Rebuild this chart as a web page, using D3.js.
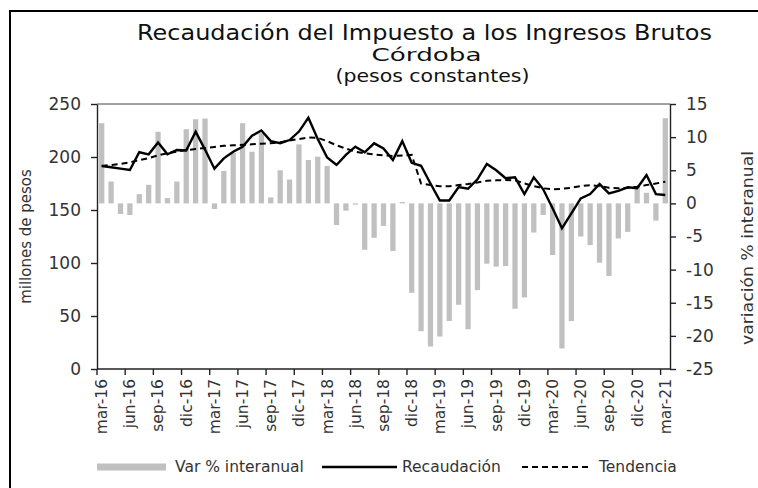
<!DOCTYPE html>
<html>
<head>
<meta charset="utf-8">
<script src="https://cdn.jsdelivr.net/npm/d3@7"></script>
<style>
  body { margin: 0; background: #fff; }
  svg { display: block; font-family: "DejaVu Sans", sans-serif; }
</style>
</head>
<body>
<svg id="chart" width="758" height="488"></svg>
<script>
// Monthly categories, mar-16 .. mar-21
const monthNames = ["ene", "feb", "mar", "abr", "may", "jun", "jul", "ago", "sep", "oct", "nov", "dic"];
const months = [];
for (let k = 0; k < 61; k++) {
  const m = (2 + k) % 12;
  const y = 16 + Math.floor((2 + k) / 12);
  months.push(monthNames[m] + "-" + y);
}

// Year-on-year change (%), right axis
const varInteranual = [
  12.1, 3.3, -1.6, -1.75, 1.4, 2.8, 10.8, 0.8, 3.3, 11.2, 12.7, 12.8,
  -0.85, 4.9, 7.6, 12.1, 7.8, 10.6, 0.9, 5.0, 3.6, 8.9, 6.55, 7.05,
  5.65, -3.26, -1.1, -0.2, -7.0, -5.2, -3.4, -7.2, 0.2, -13.5, -19.3, -21.6,
  -20.1, -17.75, -15.3, -19.0, -13.1, -9.1, -9.55, -9.45, -15.9, -14.2, -4.4, -1.75,
  -7.8, -21.9, -17.75, -5.0, -6.3, -8.95, -10.95, -5.3, -4.3, 2.5, 1.6, -2.6,
  12.85
];

// Revenue, millions of constant pesos (left axis)
const recaudacion = [
  191.5, 190.3, 189, 187.7, 204.5, 202.5, 213.7, 202.5, 206.6, 206.2, 223.9, 207,
  189, 198.7, 205, 209.7, 220, 225, 215, 213, 216, 224, 237, 217,
  199.5, 192.5, 202, 209.7, 204.4, 212.9, 208, 197.2, 215, 194.5, 191.7, 175,
  159, 159, 171.7, 170, 179, 193.4, 187.5, 180, 180.8, 165, 180.8, 169.5,
  151.6, 132.7, 146.9, 161, 165, 174.5, 165.7, 168, 171.4, 170.5, 183, 165,
  164.2
];

// Trend component of the revenue series
const tendencia = [
  191.5, 192.5, 193.5, 195, 197, 199, 201.5, 203.5, 205, 206.5, 207.5, 208.5,
  209.5, 210.5, 211, 211.5, 212, 212.5, 213, 214, 215.5, 217, 218.5, 218,
  215, 211, 208, 205, 203.5, 202.5, 201.5, 201, 201.5, 202, 175, 173.5,
  172.5, 172.5, 173.5, 174.5, 176, 177.5, 178, 178.3, 178, 175, 172.5, 170.5,
  169.5, 170, 171, 172.5, 173.5, 172.5, 171, 170.5, 171, 172, 173.5, 175,
  176.7
];

const leftTicks = [0, 50, 100, 150, 200, 250];
const rightTicks = [-25, -20, -15, -10, -5, 0, 5, 10, 15];
const tickMonths = months.filter((d, i) => i % 3 === 0);

const svg = d3.select("#chart");
const plot = { left: 97, right: 670, top: 104, bottom: 369 };
const textColor = "#333";

// Outer frame
svg.append("path")
  .attr("d", "M10,488 V11 H758")
  .attr("fill", "none").attr("stroke", "#000").attr("stroke-width", 2);

// Titles (wide geometric face approximated by stretching the glyphs)
const titles = [
  { t: "Recaudación del Impuesto a los Ingresos Brutos", x: 424.5, y: 40, s: 21, w: 575 },
  { t: "Córdoba", x: 426.5, y: 61, s: 18.5, w: 110 },
  { t: "(pesos constantes)", x: 432.5, y: 82, s: 18.5, w: 194 }
];
svg.selectAll("text.title").data(titles).join("text")
  .attr("class", "title")
  .attr("x", d => d.x).attr("y", d => d.y)
  .attr("text-anchor", "middle")
  .attr("font-size", d => d.s)
  .attr("textLength", d => d.w)
  .attr("lengthAdjust", "spacingAndGlyphs")
  .attr("fill", "#111")
  .text(d => d.t);

// Scales
const x = d3.scaleBand().domain(months)
  .range([plot.left, plot.right])
  .paddingInner(0.44).paddingOuter(0.22);
const step = x.step();
const yLeft = d3.scaleLinear().domain([0, 250]).range([plot.bottom, plot.top]);
const yRight = d3.scaleLinear().domain([-25, 15]).range([plot.bottom, plot.top]);

// Bars: year-on-year change
svg.append("g").selectAll("rect").data(varInteranual).join("rect")
  .attr("x", (d, i) => x(months[i]))
  .attr("width", x.bandwidth())
  .attr("y", d => yRight(Math.max(0, d)))
  .attr("height", d => Math.abs(yRight(d) - yRight(0)))
  .attr("fill", "#c0c0c0");

// Top border of the plot area
svg.append("line")
  .attr("x1", plot.left).attr("x2", plot.right)
  .attr("y1", plot.top).attr("y2", plot.top)
  .attr("stroke", "#444").attr("stroke-width", 1);

// Lines
const cx = i => x(months[i]) + x.bandwidth() / 2;
const lineGen = d3.line().x((d, i) => cx(i)).y(d => yLeft(d));
svg.append("path").datum(tendencia)
  .attr("d", lineGen)
  .attr("fill", "none").attr("stroke", "#000")
  .attr("stroke-width", 2).attr("stroke-dasharray", "6,4");
svg.append("path").datum(recaudacion)
  .attr("d", lineGen)
  .attr("fill", "none").attr("stroke", "#000")
  .attr("stroke-width", 2.4).attr("stroke-linejoin", "miter");

// Axes
const styleAxis = g => {
  g.selectAll(".domain").attr("stroke", "#222").attr("stroke-width", 1.4);
  g.selectAll(".tick line").attr("stroke", "#222").attr("stroke-width", 1.4);
  g.selectAll(".tick text").attr("fill", textColor).attr("font-family", "DejaVu Sans, sans-serif");
};

const gLeft = svg.append("g")
  .attr("transform", `translate(${plot.left},0)`)
  .call(d3.axisLeft(yLeft).tickValues(leftTicks).tickSize(6).tickPadding(10).tickSizeOuter(0))
  .call(styleAxis);
gLeft.selectAll(".tick text").attr("font-size", 17);

const gRight = svg.append("g")
  .attr("transform", `translate(${plot.right},0)`)
  .call(d3.axisRight(yRight).tickValues(rightTicks).tickSize(6).tickPadding(10).tickSizeOuter(0)
    .tickFormat(d => String(d)))
  .call(styleAxis);
gRight.selectAll(".tick text").attr("font-size", 17);

const gBottom = svg.append("g")
  .attr("transform", `translate(0,${plot.bottom})`)
  .call(d3.axisBottom(x).tickValues(tickMonths).tickSize(6).tickSizeOuter(0))
  .call(styleAxis);
gBottom.select(".domain").attr("d", `M${plot.left},0H${plot.right}`);
// tick marks sit on category boundaries, labels stay centred on their month
gBottom.selectAll(".tick line").attr("transform", `translate(${-step / 2},0)`);
gBottom.selectAll(".tick text")
  .attr("font-size", 15.5)
  .attr("text-anchor", "end")
  .attr("transform", "rotate(-90)")
  .attr("x", -10).attr("y", 0).attr("dy", "0.35em");

// Axis titles
svg.append("text")
  .attr("transform", `translate(31,${(plot.top + plot.bottom) / 2}) rotate(-90)`)
  .attr("text-anchor", "middle")
  .attr("font-size", 15).attr("fill", textColor)
  .text("millones de pesos");
svg.append("text")
  .attr("transform", `translate(753,248) rotate(-90)`)
  .attr("text-anchor", "middle")
  .attr("font-size", 15.5).attr("fill", textColor)
  .attr("textLength", 194).attr("lengthAdjust", "spacingAndGlyphs")
  .text("variación % interanual");

// Legend
const ly = 467;
const legend = svg.append("g");
legend.append("rect").attr("x", 97).attr("y", ly - 3.5).attr("width", 69).attr("height", 7).attr("fill", "#c0c0c0");
legend.append("text").attr("x", 175).attr("y", ly).attr("dy", "0.35em")
  .attr("font-size", 15.5).attr("fill", textColor).text("Var % interanual");
legend.append("line").attr("x1", 322).attr("x2", 397).attr("y1", ly).attr("y2", ly)
  .attr("stroke", "#000").attr("stroke-width", 2.4);
legend.append("text").attr("x", 402).attr("y", ly).attr("dy", "0.35em")
  .attr("font-size", 15.5).attr("fill", textColor).text("Recaudación");
legend.append("line").attr("x1", 522).attr("x2", 592).attr("y1", ly).attr("y2", ly)
  .attr("stroke", "#000").attr("stroke-width", 2).attr("stroke-dasharray", "6,4");
legend.append("text").attr("x", 599).attr("y", ly).attr("dy", "0.35em")
  .attr("font-size", 15.5).attr("fill", textColor).text("Tendencia");
</script>
</body>
</html>
